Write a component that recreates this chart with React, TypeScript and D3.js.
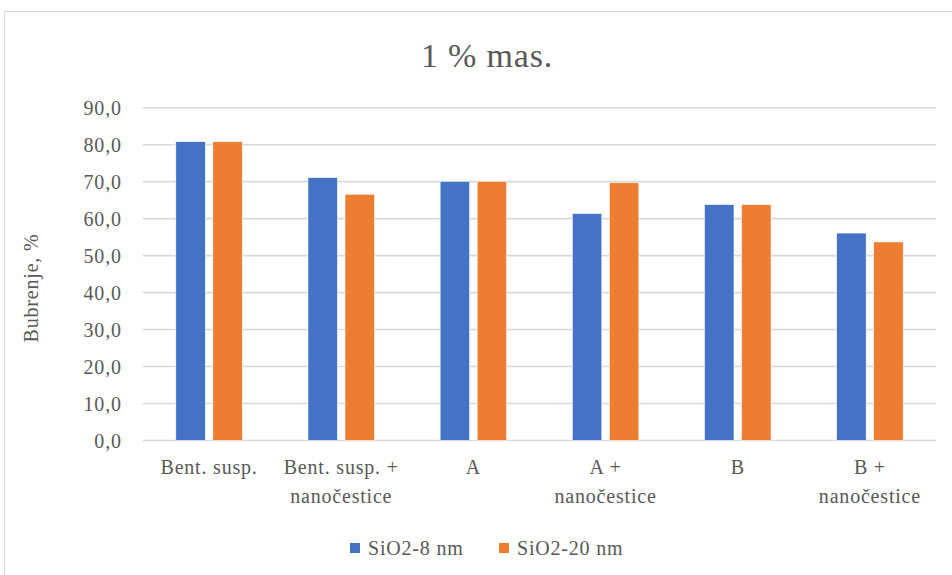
import React from "react";
import * as d3 from "d3";

const categories: string[][] = [
  ["Bent. susp."],
  ["Bent. susp. +", "nanočestice"],
  ["A"],
  ["A +", "nanočestice"],
  ["B"],
  ["B +", "nanočestice"],
];
const seriesNames = ["SiO2-8 nm", "SiO2-20 nm"];
const sio2_8nm = [80.8, 71.1, 70.1, 61.4, 63.8, 56.1];
const sio2_20nm = [80.8, 66.6, 70.1, 69.7, 63.8, 53.7];
const yTicks = [0, 10, 20, 30, 40, 50, 60, 70, 80, 90];
const title = "1 % mas.";
const yTitle = "Bubrenje, %";

const colors = ["#4472C4", "#ED7D31"];
const textColor = "#595959";
const font = "Liberation Serif, Tinos, serif";

export default function App() {
  const W = 952;
  const H = 575;
  const left = 143;
  const right = 936;
  const top = 107.7;
  const bottom = 440.5;

  const keys = categories.map((c) => c.join(" "));
  const x0 = d3.scaleBand<string>().domain(keys).range([left, right]).padding(0);
  const step = x0.bandwidth();
  const x1 = d3
    .scaleBand<string>()
    .domain(seriesNames)
    .range([32.8, step - 32.8])
    .paddingInner(0.2027)
    .paddingOuter(0);
  const y = d3.scaleLinear().domain([0, 90]).range([bottom, top]);
  const fmt = (v: number) => d3.format(".1f")(v).replace(".", ",");
  const series = [sio2_8nm, sio2_20nm];
  const ts = (size: number, ls: number): React.CSSProperties => ({
    fontFamily: font,
    fontSize: size,
    letterSpacing: ls,
    fill: textColor,
  });

  return (
    <svg
      width={W}
      height={H}
      style={{ position: "absolute", left: 0, top: 0, background: "#fff" }}
    >
      <rect x={0} y={0} width={W} height={H} fill="#fff" />
      <rect x={4.5} y={11.5} width={W + 20} height={H + 20} fill="none" stroke="#d9d9d9" strokeWidth={1} />
      <text x={487} y={67} textAnchor="middle" style={ts(34, 0.8)}>
        {title}
      </text>
      {yTicks.map((t) => (
        <g key={t}>
          <line x1={left} x2={right} y1={y(t)} y2={y(t)} stroke="#d9d9d9" strokeWidth={1.6} />
          <text x={122} y={y(t)} dy="0.35em" textAnchor="end" style={ts(20, 0.9)}>
            {fmt(t)}
          </text>
        </g>
      ))}
      <text transform={`translate(38, 288) rotate(-90)`} textAnchor="middle" style={ts(20, 0.8)}>
        {yTitle}
      </text>
      {keys.map((k, i) => (
        <g key={k} transform={`translate(${x0(k)},0)`}>
          {series.map((vals, s) => (
            <rect
              key={s}
              x={x1(seriesNames[s])}
              y={y(vals[i])}
              width={x1.bandwidth()}
              height={y(0) - y(vals[i])}
              fill={colors[s]}
              stroke="#fff"
              strokeWidth={0.6}
            />
          ))}
          {categories[i].map((line, j) => (
            <text key={j} x={step / 2} y={474 + j * 29} textAnchor="middle" style={ts(20, 0.8)}>
              {line}
            </text>
          ))}
        </g>
      ))}
      {seriesNames.map((n, s) => {
        const lx = s === 0 ? 350 : 499;
        return (
          <g key={n}>
            <rect x={lx} y={543} width={10} height={10} fill={colors[s]} />
            <text x={lx + 18} y={548} dy="0.35em" style={ts(20, 0.8)}>
              {n}
            </text>
          </g>
        );
      })}
    </svg>
  );
}
